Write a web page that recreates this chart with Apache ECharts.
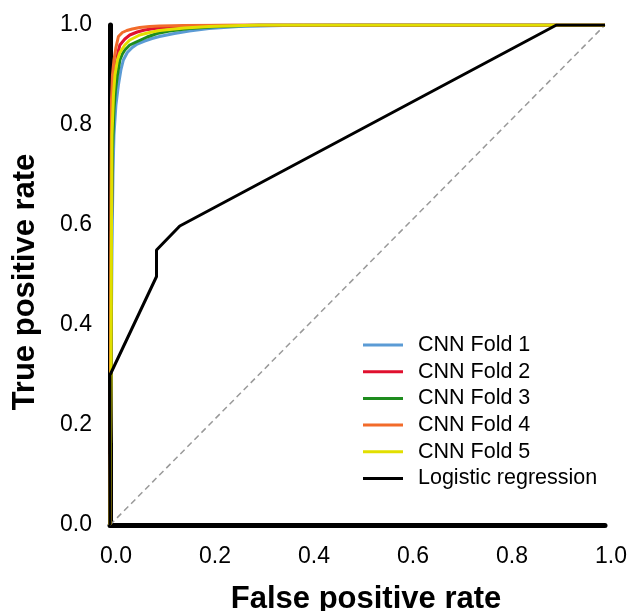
<!DOCTYPE html>
<html><head><meta charset="utf-8">
<script src="https://cdn.jsdelivr.net/npm/echarts@6/dist/echarts.min.js"></script>
<style>html,body{margin:0;padding:0;background:#fff}#c{width:632px;height:611px}</style>
</head><body><div id="c"></div>
<script>
const seriesNames = ["CNN Fold 1","CNN Fold 2","CNN Fold 3","CNN Fold 4","CNN Fold 5","Logistic regression"];
const fold1X = [0,0.002,0.004,0.006,0.008,0.012,0.017,0.022,0.027,0.035,0.045,0.055,0.07,0.085,0.1,0.13,0.16,0.2,0.26,0.35,0.5,1];
const fold1Y = [0,0.3,0.55,0.7,0.78,0.84,0.88,0.91,0.93,0.945,0.955,0.962,0.968,0.973,0.977,0.983,0.988,0.993,0.997,0.999,1,1];
const fold2X = [0,0.002,0.003,0.005,0.008,0.012,0.016,0.02,0.03,0.04,0.055,0.07,0.09,0.11,0.15,0.2,0.3,1];
const fold2Y = [0,0.3,0.6,0.8,0.88,0.92,0.945,0.96,0.972,0.98,0.986,0.99,0.993,0.995,0.998,0.999,1,1];
const fold3X = [0,0.002,0.003,0.005,0.008,0.011,0.015,0.02,0.025,0.03,0.04,0.055,0.075,0.095,0.12,0.16,0.22,0.3,1];
const fold3Y = [0,0.3,0.6,0.75,0.83,0.87,0.9,0.93,0.942,0.95,0.96,0.967,0.976,0.983,0.988,0.993,0.997,1,1];
const fold4X = [0,0.001,0.002,0.003,0.005,0.008,0.012,0.017,0.025,0.034,0.045,0.06,0.08,0.1,0.15,0.25,1];
const fold4Y = [0,0.3,0.65,0.85,0.9,0.93,0.955,0.977,0.985,0.989,0.992,0.995,0.997,0.998,0.999,1,1];
const fold5X = [0,0.002,0.003,0.004,0.007,0.01,0.015,0.02,0.03,0.04,0.06,0.08,0.1,0.15,0.2,0.3,1];
const fold5Y = [0,0.3,0.6,0.78,0.86,0.9,0.93,0.945,0.96,0.97,0.98,0.985,0.989,0.994,0.997,1,1];
const logX = [0,0,0.094,0.094,0.141,0.902,1];
const logY = [0,0.3,0.497,0.55,0.598,1,1];
const diagX = [0,1];
const diagY = [0,1];
const xTitle = "False positive rate";
const yTitle = "True positive rate";
const colors = ["#5B9BD5","#E0102E","#1E8C1E","#F26B2A","#E2DF00","#000000"];

const xs = [fold1X,fold2X,fold3X,fold4X,fold5X,logX];
const ys = [fold1Y,fold2Y,fold3Y,fold4Y,fold5Y,logY];
const zip = (a,b)=>a.map((v,i)=>[v,b[i]]);

const series = [{
  type:'line', name:'diag', data: zip(diagX,diagY), showSymbol:false, silent:true,
  lineStyle:{color:'#999',width:1.5,type:[6,4]}, z:1
}];
seriesNames.forEach((n,i)=>{
  series.push({type:'line', name:n, data: zip(xs[i],ys[i]), showSymbol:false,
    lineStyle:{color:colors[i],width:3}, itemStyle:{color:colors[i]}, z:2+i});
});

const chart = echarts.init(document.getElementById('c'));
chart.setOption({
  animation:false,
  grid:{left:110, top:25, width:495, height:500, containLabel:false, outerBoundsMode:'none'},
  legend:{
    data:seriesNames, orient:'vertical', left:358, top:329,
    icon:'rect', itemWidth:40, itemHeight:3, itemGap:4.7,
    textStyle:{fontFamily:'Liberation Sans', fontSize:21.5, color:'#000', lineHeight:22, padding:[0,0,0,10]}
  },
  xAxis:{type:'value', min:0, max:1, interval:0.2,
    axisLine:{show:true, onZero:false, lineStyle:{color:'#000', width:5}},
    axisTick:{show:false}, splitLine:{show:false},
    axisLabel:{fontFamily:'Liberation Sans', fontSize:23, color:'#000', margin:20, formatter:v=>v.toFixed(1), padding:[0,0,0,12]}
  },
  yAxis:{type:'value', min:0, max:1, interval:0.2,
    axisLine:{show:true, onZero:false, lineStyle:{color:'#000', width:5}},
    axisTick:{show:false}, splitLine:{show:false},
    axisLabel:{fontFamily:'Liberation Sans', fontSize:23, color:'#000', margin:18, formatter:v=>v.toFixed(1)}
  },
  graphic:[
    {type:'text', x:366, y:599, style:{text:xTitle, font:'bold 31px "Liberation Sans"', fill:'#000', textAlign:'center', textVerticalAlign:'middle'}},
    {type:'text', x:25, y:282, rotation:Math.PI/2, style:{text:yTitle, font:'bold 31px "Liberation Sans"', fill:'#000', textAlign:'center', textVerticalAlign:'middle'}}
  ],
  series: series
});
</script></body></html>
